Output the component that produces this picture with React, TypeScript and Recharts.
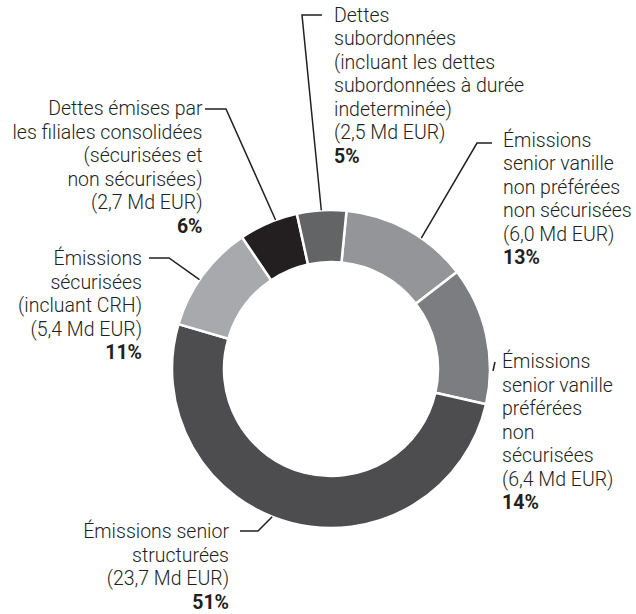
import React from 'react';
import { PieChart, Pie, Cell } from 'recharts';

// slices run clockwise from just right of 12 o'clock
const categories: string[][] = [
  ['Émissions', 'senior vanille', 'non préférées', 'non sécurisées'],
  ['Émissions', 'senior vanille', 'préférées', 'non', 'sécurisées'],
  ['Émissions senior', 'structurées'],
  ['Émissions', 'sécurisées', '(incluant CRH)'],
  ['Dettes émises par', 'les filiales consolidées', '(sécurisées et', 'non sécurisées)'],
  ['Dettes', 'subordonnées', '(incluant les dettes', 'subordonnées à durée', 'indeterminée)'],
];
const amounts = [6.0, 6.4, 23.7, 5.4, 2.7, 2.5]; // Md EUR
const shares = [13, 14, 51, 11, 6, 5]; // %

const colors = ['#939598', '#7c7d80', '#4d4d4f', '#a7a9ac', '#231f20', '#636466'];

const CX = 326;
const CY = 364;
const R_OUT = 159;
const R_IN = 107;
const LINE_H = 23.5;
const TEXT = '#231f20';
const FONT = 'Roboto, "Liberation Sans", Arial, sans-serif';

// label placement: text anchor point, where the leader touches the ring (deg clockwise from top), leader bends
const labelLayout = [
  { x: 503, y: 146.7, anchor: 'start', touch: 34.6, gap: 0, path: [[477, 143], [492, 143]] },
  { x: 502, y: 368.3, anchor: 'start', touch: 90.7, gap: 3, path: [[495, 362]] },
  { x: 229, y: 538.3, anchor: 'end', touch: 201.7, gap: 0, path: [[258, 531], [240, 531]] },
  { x: 142, y: 265, anchor: 'end', touch: 304.2, gap: 0, path: [[169, 258], [149, 258]] },
  { x: 202.5, y: 115, anchor: 'end', touch: 339.6, gap: 0, path: [[226, 109], [205, 109]] },
  { x: 334, y: 21.7, anchor: 'start', touch: 356.5, gap: 0, path: [[302, 15], [322, 15]] },
];

const data = shares.map((v, i) => ({
  name: categories[i].join(' '),
  value: v,
  amount: amounts[i],
}));

const fmtAmount = (v: number) => `(${v.toFixed(1).replace('.', ',')} Md EUR)`;

const renderLabel = (props: any) => {
  const { index } = props;
  const cx = props.cx ?? CX;
  const cy = props.cy ?? CY;
  const r = props.outerRadius ?? R_OUT;
  const l = labelLayout[index];
  const a = (l.touch * Math.PI) / 180;
  const sx = cx + (r + l.gap) * Math.sin(a);
  const sy = cy - (r + l.gap) * Math.cos(a);
  const pts = [[sx, sy], ...l.path].map((p) => p.join(',')).join(' ');
  const lines = [...categories[index], fmtAmount(amounts[index])];
  return (
    <g key={`lbl-${index}`}>
      <polyline points={pts} fill="none" stroke={TEXT} strokeWidth={1.5} />
      <text
        x={l.x}
        y={l.y}
        textAnchor={l.anchor}
        fontFamily={FONT}
        fontSize={19.5}
        fontWeight={300}
        fill={TEXT}
      >
        {lines.map((t, k) => (
          <tspan key={k} x={l.x} y={l.y + k * LINE_H}>
            {t}
          </tspan>
        ))}
        <tspan x={l.x} y={l.y + lines.length * LINE_H} fontWeight={700}>
          {`${shares[index]}%`}
        </tspan>
      </text>
    </g>
  );
};

export default function App() {
  return (
    <div style={{ position: 'absolute', left: 0, top: 0, background: '#fff' }}>
      <PieChart width={636} height={614}>
        <Pie
          data={data}
          dataKey="value"
          cx={CX}
          cy={CY}
          innerRadius={R_IN}
          outerRadius={R_OUT}
          startAngle={84.4}
          endAngle={-275.6}
          stroke="#fff"
          strokeWidth={2.5}
          label={renderLabel}
          labelLine={false}
          isAnimationActive={false}
        >
          {data.map((d, i) => (
            <Cell key={d.name} fill={colors[i]} />
          ))}
        </Pie>
      </PieChart>
    </div>
  );
}
